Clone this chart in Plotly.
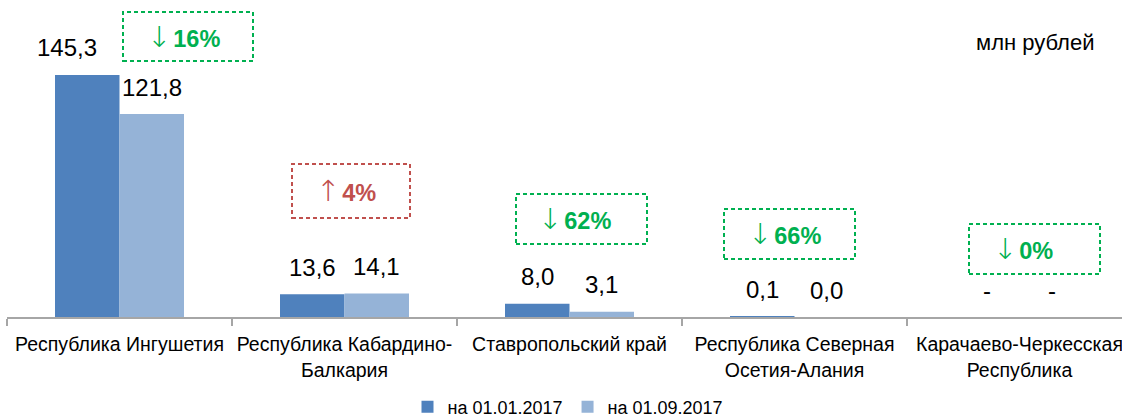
import plotly.graph_objects as go

# ---- data ----
categories = [
    "Республика Ингушетия",
    "Республика Кабардино-<br>Балкария",
    "Ставропольский край",
    "Республика Северная<br>Осетия-Алания",
    "Карачаево-Черкесская<br>Республика",
]
series_names = ["на 01.01.2017", "на 01.09.2017"]
values_2017_01 = [145.3, 13.6, 8.0, 0.1, None]
values_2017_09 = [121.8, 14.1, 3.1, 0.0, None]
change_pct = [16, 4, 62, 66, 0]
change_dir = ["down", "up", "down", "down", "down"]
unit_label = "млн рублей"

# ---- style ----
W, H = 1122, 419
ML, MR, MT, MB = 7, 0, 40, 102
PX_PER_CAT = 225
colors = ["#4F81BD", "#95B3D7"]
green, red = "#00B050", "#C0504D"
FONT = "Liberation Sans, Arial, sans-serif"

plot_w = W - ML - MR
plot_h = H - MT - MB
px_per_unit = 1.666
y_max = plot_h / px_per_unit
x_max = -0.5 + plot_w / PX_PER_CAT

fig = go.Figure()
for name, vals, col in zip(series_names, [values_2017_01, values_2017_09], colors):
    fig.add_trace(go.Bar(x=categories, y=vals, name=name, marker_color=col,
                         marker_line_width=0, hoverinfo="skip"))

bargap = 0.4267
bar_px = (1 - bargap) * PX_PER_CAT / 2


def fmt(v):
    return "-" if v is None else f"{v:.1f}".replace(".", ",")


annotations = []
extra_xshift = {(0, 0): -20}
for s, vals in enumerate([values_2017_01, values_2017_09]):
    for i, v in enumerate(vals):
        xs = (-1 if s == 0 else 1) * bar_px / 2 + extra_xshift.get((i, s), 0)
        annotations.append(dict(
            x=categories[i], y=0 if v is None else v, xref="x", yref="y",
            text=fmt(v), showarrow=False, xshift=xs, yshift=27,
            yanchor="middle", xanchor="center",
            font=dict(family=FONT, size=24, color="#000000")))


def px_to_paper(px, py):
    return (px - ML) / plot_w, (H - MB - py) / plot_h


# box geometry in pixels: x0, x1, y0, y1, text-left
boxes = [
    (123, 253, 12, 61, 145),
    (292, 410, 164, 218, 314),
    (516, 647, 194, 244, 536),
    (724, 855, 209, 259, 746),
    (969, 1100, 224, 274, 991),
]
shapes = []
for (x0, x1, y0, y1, tx), pct, d in zip(boxes, change_pct, change_dir):
    col = green if d == "down" else red
    ax0, ay0 = px_to_paper(x0, y1)
    ax1, ay1 = px_to_paper(x1, y0)
    shapes.append(dict(type="rect", xref="paper", yref="paper",
                       x0=ax0, x1=ax1, y0=ay0, y1=ay1,
                       line=dict(color=col, width=2, dash="4px,3px")))
    tx_p, ty_p = px_to_paper(tx, (y0 + y1) / 2)
    arrow = "↓" if d == "down" else "↑"
    annotations.append(dict(
        x=tx_p, y=ty_p, xref="paper", yref="paper", xanchor="left",
        yanchor="middle", showarrow=False,
        text=(f"<span style='font-family:DejaVu Sans;font-size:29px;font-weight:200'>{arrow}</span>"
              f"<span style='font-size:7px'> </span><b>{pct}%</b>"),
        font=dict(family=FONT, size=23.5, color=col)))

ux, uy = px_to_paper(1035, 42)
annotations.append(dict(x=ux, y=uy, xref="paper", yref="paper", xanchor="center",
                        yanchor="middle", showarrow=False, text=unit_label,
                        font=dict(family=FONT, size=22, color="#000000")))

lx, ly = px_to_paper(568, 407)
fig.update_layout(
    width=W, height=H,
    margin=dict(l=ML, r=MR, t=MT, b=MB, pad=0, autoexpand=False),
    paper_bgcolor="white", plot_bgcolor="white",
    barmode="group", bargap=bargap, bargroupgap=0,
    showlegend=True,
    legend=dict(orientation="h", x=lx, y=ly, xanchor="center", yanchor="middle",
                font=dict(family=FONT, size=18, color="#000000"),
                itemwidth=30, traceorder="normal"),
    xaxis=dict(type="category", range=[-0.5, x_max], tickson="boundaries",
               ticks="outside", ticklen=7, tickwidth=2, tickcolor="#A6A6A6",
               showline=True, linecolor="#A6A6A6", linewidth=2, automargin=False,
               ticklabelstandoff=9, tickangle=0, fixedrange=True,
               showgrid=False, tickfont=dict(family=FONT, size=19.5, color="#000000")),
    yaxis=dict(visible=False, range=[0, y_max], showgrid=False, zeroline=False,
               automargin=False, fixedrange=True),
    shapes=shapes,
    annotations=annotations,
)

fig.write_html("out.html", config={"displayModeBar": False},
               post_script="document.body.style.margin='0';")
